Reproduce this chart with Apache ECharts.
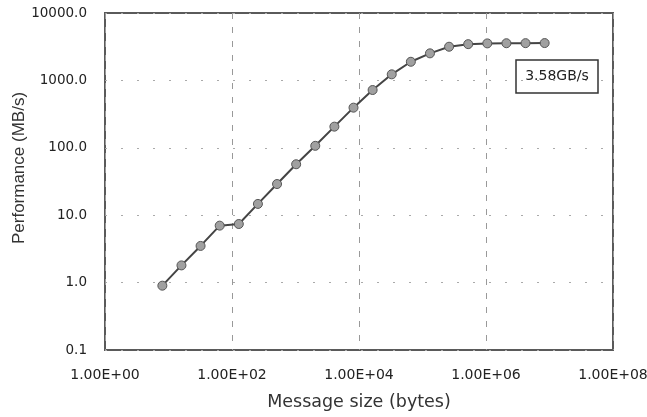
<!DOCTYPE html>
<html>
<head>
<meta charset="utf-8">
<script src="https://cdn.jsdelivr.net/npm/echarts@6/dist/echarts.min.js"></script>
<style>
html,body{margin:0;padding:0;background:#fff;}
#chart{width:647px;height:417px;}
</style>
</head>
<body>
<div id="chart"></div>
<script>
// Data
const messageSizes = [8, 16, 32, 64, 128, 256, 512, 1024, 2048, 4096, 8192, 16384, 32768, 65536, 131072, 262144, 524288, 1048576, 2097152, 4194304, 8388608];
const performance = [0.9, 1.8, 3.5, 7.0, 7.4, 14.7, 29, 57, 107, 206, 394, 720, 1230, 1890, 2520, 3160, 3450, 3540, 3560, 3570, 3580];
const xTickValues = [1, 1e2, 1e4, 1e6, 1e8];
const yTickValues = [0.1, 1, 10, 100, 1000, 10000];
const xTitle = 'Message size (bytes)';
const yTitle = 'Performance (MB/s)';
const annotation = '3.58GB/s';

function sci(v){
  const e = Math.round(Math.log10(v));
  const m = v / Math.pow(10, e);
  const sign = e < 0 ? '-' : '+';
  const ae = Math.abs(e);
  return m.toFixed(2) + 'E' + sign + (ae < 10 ? '0' + ae : ae);
}

const font = '"DejaVu Sans", sans-serif';
const chart = echarts.init(document.getElementById('chart'));
chart.setOption({
  animation: false,
  backgroundColor: '#fff',
  grid: {left: 105, right: 34, top: 13, bottom: 67, containLabel: false, outerBoundsMode: 'none', show: true, borderColor: '#5a5a5a', borderWidth: 2},
  xAxis: {
    type: 'log', logBase: 10, min: 1, max: 1e8, interval: 2,
    name: xTitle, nameLocation: 'middle', nameGap: 43,
    nameTextStyle: {fontFamily: font, fontSize: 17.5, color: '#333'},
    axisLine: {show: false}, axisTick: {show: false},
    axisLabel: {formatter: sci, fontFamily: font, fontSize: 14, color: '#222', margin: 18, hideOverlap: false},
    splitLine: {show: true, lineStyle: {color: '#999', type: [6, 8], width: 1}}
  },
  yAxis: {
    type: 'log', logBase: 10, min: 0.1, max: 10000,
    axisLine: {show: false}, axisTick: {show: false},
    axisLabel: {formatter: v => v.toFixed(1), fontFamily: font, fontSize: 13.5, color: '#222', margin: 18},
    splitLine: {show: true, lineStyle: {color: '#aaa', type: [2, 14], width: 1}}
  },
  graphic: [
    {type: 'text', x: 19, y: 168, rotation: Math.PI/2, style: {text: yTitle, font: '17px "Liberation Sans", Arial, sans-serif', fill: '#333', textAlign: 'center', textVerticalAlign: 'middle'}},
    {type: 'rect', shape: {x: 516, y: 60, width: 82, height: 33}, style: {fill: '#fff', stroke: '#333', lineWidth: 1.5}},
    {type: 'text', x: 557, y: 76, style: {text: annotation, font: '14px "DejaVu Sans", sans-serif', fill: '#222', textAlign: 'center', textVerticalAlign: 'middle'}}
  ],
  series: [{
    type: 'line',
    data: messageSizes.map((s, i) => [s, performance[i]]),
    symbol: 'circle', symbolSize: 9,
    lineStyle: {color: '#444', width: 2},
    itemStyle: {color: '#a0a0a0', borderColor: '#555', borderWidth: 1}
  }]
});
</script>
</body>
</html>
